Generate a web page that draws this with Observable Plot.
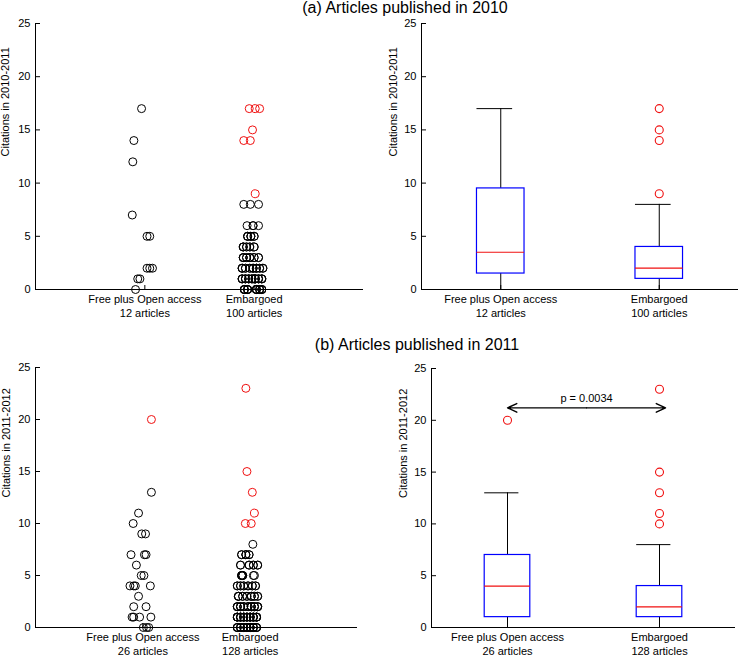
<!DOCTYPE html>
<html>
<head>
<meta charset="utf-8">
<script src="https://cdn.jsdelivr.net/npm/d3@7"></script>
<script src="https://cdn.jsdelivr.net/npm/@observablehq/plot@0.6"></script>
<style>
  body { margin: 0; background: #fff; }
  #fig { position: relative; width: 739px; height: 656px; overflow: hidden;
         font-family: "Liberation Sans", Arial, Helvetica, sans-serif; color: #000; }
  .title { position: absolute; font-size: 16px; line-height: 16px; white-space: nowrap;
           transform: translateX(-50%); z-index: 2; }
  .panel { position: absolute; }
</style>
</head>
<body>
<div id="fig"></div>
<script>
// ---------------- data ----------------
const groups = ["Free plus Open access", "Embargoed"];
const yTicks = [0, 5, 10, 15, 20, 25];

// (a) articles published in 2010, citations 2010-2011
const titleA = "(a) Articles published in 2010";
const yLabelA = "Citations in 2010-2011";
const articlesA = [12, 100];
const freeA_levels = [0, 1, 2, 5, 7, 12, 14, 17];
const freeA_counts = [1, 2, 3, 2, 1, 1, 1, 1];
const freeA_jitter = [-0.085, -0.065, -0.045, 0.02, 0.045, 0.07, 0.02, 0.045, -0.115, -0.11, -0.1, -0.03];
const embA_levels = [0, 1, 2, 3, 4, 5, 6, 8, 9, 14, 15, 17];
const embA_counts = [18, 22, 17, 12, 9, 8, 4, 3, 1, 2, 1, 3];
const embA_jitter = [
  -0.09, -0.09, -0.09, -0.09, -0.06, -0.06, -0.06, -0.06, 0.02, 0.02, 0.02, 0.02, 0.05, 0.05, 0.05, 0.07, 0.07, 0.07,
  -0.11, -0.11, -0.11, -0.08, -0.08, -0.08, -0.05, -0.05, -0.05, -0.02, -0.02, -0.02, 0.01, 0.01, 0.01, 0.01, 0.04, 0.04, 0.04, 0.07, 0.07, 0.07,
  -0.11, -0.11, -0.11, -0.08, -0.08, -0.04, -0.04, -0.01, -0.01, -0.01, 0.02, 0.02, 0.02, 0.05, 0.05, 0.08, 0.08,
  -0.1, -0.1, -0.1, -0.07, -0.07, -0.04, -0.04, -0.04, 0, 0, 0.04, 0.04,
  -0.1, -0.1, -0.1, -0.07, -0.07, -0.04, -0.04, 0, 0,
  -0.06, -0.06, -0.06, -0.03, -0.03, -0.03, 0, 0,
  -0.065, -0.01, -0.01, 0.04,
  -0.095, -0.035, 0.04,
  0.01,
  -0.095, -0.035,
  -0.015,
  -0.045, 0.01, 0.05
];

// (b) articles published in 2011, citations 2011-2012
const titleB = "(b) Articles published in 2011";
const yLabelB = "Citations in 2011-2012";
const articlesB = [26, 128];
const freeB_levels = [0, 1, 2, 3, 4, 5, 6, 7, 9, 10, 11, 13, 20];
const freeB_counts = [3, 4, 2, 1, 4, 2, 1, 3, 2, 1, 1, 1, 1];
const freeB_jitter = [
  0.005, 0.035, 0.055,
  -0.1, -0.085, -0.03, 0.075,
  -0.085, 0.03,
  -0.04,
  -0.12, -0.085, -0.07, 0.07,
  -0.015, 0.01,
  -0.06,
  -0.11, 0.015, 0.03,
  -0.01, 0.025,
  -0.09,
  -0.04,
  0.08,
  0.08
];
const embB_levels = [0, 1, 2, 3, 4, 5, 6, 7, 8, 10, 11, 13, 15, 23];
const embB_counts = [22, 28, 22, 14, 12, 8, 8, 7, 1, 2, 1, 1, 1, 1];
const embB_jitter = [
  -0.12, -0.12, -0.12, -0.09, -0.09, -0.09, -0.06, -0.06, -0.06, -0.03, -0.03, -0.03, 0, 0, 0, 0, 0.03, 0.03, 0.03, 0.06, 0.06, 0.06,
  -0.12, -0.12, -0.12, -0.12, -0.09, -0.09, -0.09, -0.09, -0.06, -0.06, -0.06, -0.06, -0.03, -0.03, -0.03, -0.03, 0, 0, 0, 0, 0.03, 0.03, 0.03, 0.03, 0.06, 0.06, 0.06, 0.06,
  -0.12, -0.12, -0.12, -0.09, -0.09, -0.09, -0.06, -0.06, -0.06, -0.02, -0.02, -0.02, 0.01, 0.01, 0.01, 0.01, 0.04, 0.04, 0.04, 0.07, 0.07, 0.07,
  -0.11, -0.11, -0.11, -0.07, -0.07, -0.03, -0.03, 0.01, 0.01, 0.01, 0.04, 0.04, 0.07, 0.07,
  -0.12, -0.12, -0.09, -0.09, -0.06, -0.06, -0.02, -0.02, 0.02, 0.02, 0.05, 0.05,
  -0.08, -0.08, -0.08, -0.07, -0.07, -0.07, 0.03, 0.04,
  -0.09, -0.09, -0.01, -0.01, 0.03, 0.03, 0.07, 0.07,
  -0.08, -0.08, -0.04, -0.04, -0.04, -0.01, -0.01,
  0.025,
  -0.045, 0.01,
  0.04,
  0.02,
  -0.03,
  -0.04
];

// significance annotation in panel (b), right
const pLabel = "p = 0.0034";
const pArrowY = 21.2;
const pArrowFrom = 1.0;
const pArrowTo = 2.04;

// ---------------- helpers ----------------
const FONT = '"Liberation Sans", Arial, Helvetica, sans-serif';
const RED = "#f01010";
const BLUE = "#0000ff";
const BW = 0.3; // box width in x units

function expand(levels, counts) {
  const out = [];
  levels.forEach((v, i) => { for (let k = 0; k < counts[i]; k++) out.push(v); });
  return out;
}

// MATLAB-style quartiles (prctile) and 1.5*IQR whiskers
function boxStats(values, pos) {
  const s = values.slice().sort((a, b) => a - b), n = s.length;
  const q = p => {
    const r = n * p + 0.5;
    if (r <= 1) return s[0];
    if (r >= n) return s[n - 1];
    const lo = Math.floor(r), f = r - lo;
    return s[lo - 1] + f * (s[lo] - s[lo - 1]);
  };
  const q1 = q(0.25), med = q(0.5), q3 = q(0.75), iqr = q3 - q1;
  const lowerLim = q1 - 1.5 * iqr, upperLim = q3 + 1.5 * iqr;
  const inside = s.filter(v => v >= lowerLim && v <= upperLim);
  return { pos, q1, med, q3, lo: d3.min(inside), hi: d3.max(inside), lowerLim, upperLim };
}

function makeGroups(levels, counts, jitters) {
  return [0, 1].map(i => {
    const values = expand(levels[i], counts[i]);
    if (values.length !== jitters[i].length) console.warn("jitter length mismatch", i, values.length, jitters[i].length);
    return { pos: i + 1, values, jitter: jitters[i], stats: boxStats(values, i + 1) };
  });
}

function axesMarks(cfg) {
  return [
    Plot.ruleY([0], { stroke: "#000", strokeWidth: 1 }),
    Plot.ruleX([cfg.xDomain[0]], { stroke: "#000", strokeWidth: 1 }),
    Plot.axisY({ ticks: yTicks, tickSize: 0, tickPadding: 5, label: null, fontSize: 11 }),
    Plot.axisY({ ticks: yTicks, tickSize: -5, text: null, label: null }),
    Plot.axisX({ ticks: [1, 2], tickSize: 0, tickPadding: 4, label: null, fontSize: 11, lineHeight: 1.27,
                 tickFormat: d => `${groups[d - 1]}\n${cfg.articles[d - 1]} articles` }),
    Plot.axisX({ ticks: [1, 2], tickSize: -4, text: null, label: null }),
    Plot.text([cfg.yLabel], { frameAnchor: "left", rotate: -90, dx: cfg.labelDx, fontSize: 11 })
  ];
}

function scatterPlot(G, cfg) {
  const pts = G.flatMap(g => g.values.map((v, k) => ({
    x: g.pos + g.jitter[k], y: v, out: v < g.stats.lowerLim || v > g.stats.upperLim
  })));
  return Plot.plot({
    width: cfg.width, height: cfg.height,
    marginLeft: cfg.ml, marginRight: cfg.mr, marginTop: cfg.mt, marginBottom: cfg.mb,
    x: { domain: cfg.xDomain }, y: { domain: [0, 25] },
    style: { fontFamily: FONT, fontSize: "11px", background: "transparent", overflow: "visible", color: "#000" },
    marks: [
      ...axesMarks(cfg),
      Plot.dot(pts.filter(d => !d.out), { x: "x", y: "y", r: 4, stroke: "#000", strokeWidth: 1 }),
      Plot.dot(pts.filter(d => d.out), { x: "x", y: "y", r: 4, stroke: RED, strokeWidth: 1 })
    ]
  });
}

function boxPlot(G, cfg, extra = []) {
  const S = G.map(g => g.stats);
  // outlier values (coincident ones drawn once)
  const outl = G.flatMap(g => Array.from(new Set(g.values
    .filter(v => v < g.stats.lowerLim || v > g.stats.upperLim)))
    .map(v => ({ x: g.pos, y: v })));
  return Plot.plot({
    width: cfg.width, height: cfg.height,
    marginLeft: cfg.ml, marginRight: cfg.mr, marginTop: cfg.mt, marginBottom: cfg.mb,
    x: { domain: cfg.xDomain }, y: { domain: [0, 25] },
    style: { fontFamily: FONT, fontSize: "11px", background: "transparent", overflow: "visible", color: "#000" },
    marks: [
      ...axesMarks(cfg),
      Plot.ruleX(S, { x: "pos", y1: "q3", y2: "hi", stroke: "#000" }),
      Plot.ruleX(S, { x: "pos", y1: "lo", y2: "q1", stroke: "#000" }),
      Plot.ruleY(S, { y: "hi", x1: d => d.pos - BW / 2, x2: d => d.pos + BW / 4, stroke: "#000" }),
      Plot.ruleY(S, { y: "lo", x1: d => d.pos - BW / 2, x2: d => d.pos + BW / 4, stroke: "#000" }),
      Plot.rect(S, { x1: d => d.pos - BW / 2, x2: d => d.pos + BW / 2, y1: "q1", y2: "q3",
                     stroke: BLUE, fill: "none", strokeWidth: 1.2 }),
      Plot.ruleY(S, { y: "med", x1: d => d.pos - BW / 2, x2: d => d.pos + BW / 2, stroke: RED, strokeWidth: 1.2 }),
      Plot.dot(outl, { x: "x", y: "y", r: 4, stroke: RED, strokeWidth: 1.1 }),
      ...extra
    ]
  });
}

// ---------------- build ----------------
const fig = document.getElementById("fig");
function place(node, left, top) {
  const d = document.createElement("div");
  d.className = "panel";
  d.style.left = left + "px"; d.style.top = top + "px";
  d.appendChild(node);
  fig.appendChild(d);
}
function title(text, cx, top) {
  const t = document.createElement("div");
  t.className = "title";
  t.style.left = cx + "px"; t.style.top = top + "px";
  t.textContent = text;
  fig.appendChild(t);
}

const GA = makeGroups([freeA_levels, embA_levels], [freeA_counts, embA_counts], [freeA_jitter, embA_jitter]);
const GB = makeGroups([freeB_levels, embB_levels], [freeB_counts, embB_counts], [freeB_jitter, embB_jitter]);

place(scatterPlot(GA, { width: 370, height: 330, ml: 35, mr: 7, mt: 23, mb: 41, xDomain: [0, 3],
  articles: articlesA, yLabel: yLabelA, labelDx: -30 }), 0, 0);
place(boxPlot(GA, { width: 369, height: 330, ml: 51, mr: 1, mt: 23, mb: 41, xDomain: [0.5, 2.5],
  articles: articlesA, yLabel: yLabelA, labelDx: -28 }), 370, 0);

place(scatterPlot(GB, { width: 370, height: 326, ml: 35, mr: 13, mt: 37, mb: 29, xDomain: [0, 3],
  articles: articlesB, yLabel: yLabelB, labelDx: -29 }), 0, 330);

const mid = (pArrowFrom + pArrowTo) / 2;
const annot = [
  Plot.arrow([{ a: mid, b: pArrowFrom }, { a: mid, b: pArrowTo }],
    { x1: "a", x2: "b", y1: pArrowY, y2: pArrowY, stroke: "#000", strokeWidth: 1.4, headLength: 11, headAngle: 50 }),
  Plot.text([pLabel], { x: mid, y: pArrowY, dy: -9, fontSize: 11 })
];
place(boxPlot(GB, { width: 369, height: 326, ml: 61, mr: 4, mt: 38, mb: 29, xDomain: [0.5, 2.5],
  articles: articlesB, yLabel: yLabelB, labelDx: -28 }, annot), 370, 330);

title(titleA, 405, 0);
title(titleB, 417, 337);
</script>
</body>
</html>
